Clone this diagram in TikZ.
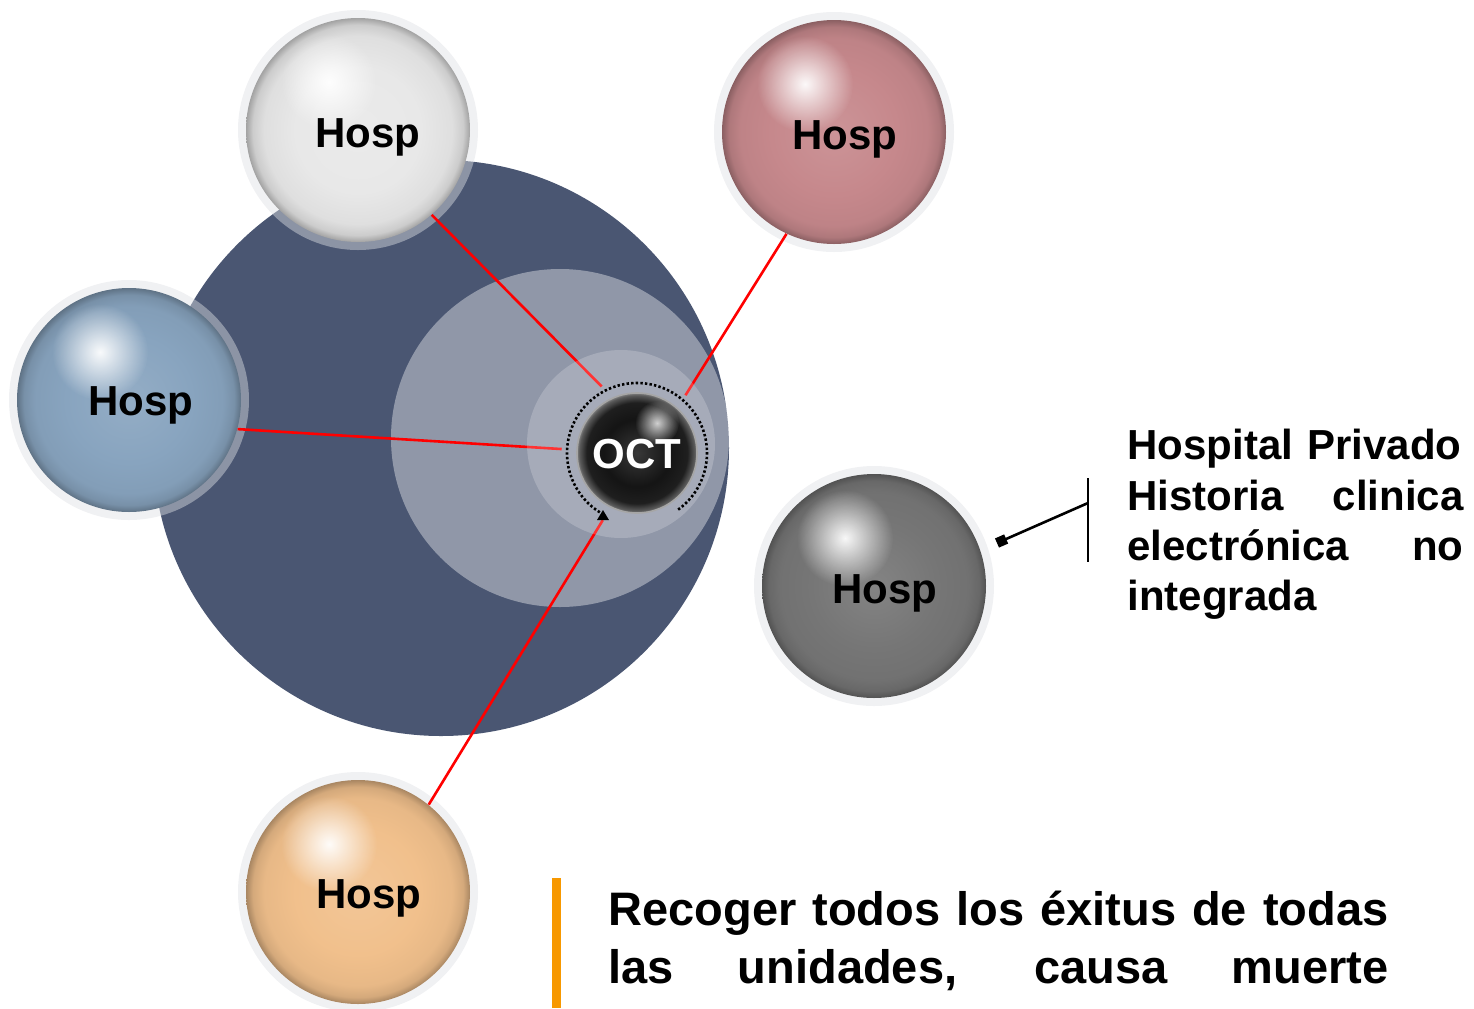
\documentclass[tikz,border=0pt]{standalone}
\usepackage{fontspec}
\setmainfont{Liberation Sans}
\usetikzlibrary{arrows.meta,fadings}
\definecolor{navy}{RGB}{74,86,114}
\definecolor{halocol}{RGB}{222,224,229}
\definecolor{cwhite}{RGB}{232,232,232}
\definecolor{cred}{RGB}{198,136,140}
\definecolor{cblue}{RGB}{136,164,191}
\definecolor{cgray}{RGB}{118,118,118}
\definecolor{corange}{RGB}{241,192,140}
\definecolor{obar}{RGB}{247,152,0}
\colorlet{sphc}{gray}
\pgfdeclareradialshading[sphc]{sph}{\pgfqpoint{0bp}{0bp}}{%
 color(0bp)=(sphc!90!white);
 color(14bp)=(sphc);
 color(21bp)=(sphc!96!black);
 color(23.5bp)=(sphc!88!black);
 color(25bp)=(sphc!70!black);
 color(50bp)=(sphc!70!black)}
\pgfdeclareradialshading{octsh}{\pgfqpoint{0bp}{0bp}}{%
 color(0bp)=(black!78);
 color(14bp)=(black!92);
 color(21bp)=(black!88);
 color(24bp)=(black!65);
 color(25bp)=(black!50);
 color(50bp)=(black!50)}
\tikzfading[name=hlfade, inner color=transparent!0, outer color=transparent!100]
\begin{document}
\begin{tikzpicture}[x=0.5pt,y=-0.5pt,
  sphc/.code={\colorlet{sphc}{#1}},
  ballnode/.style={circle, minimum size=112pt, inner sep=0pt, shading=sph, sphc=#1},
  halofill/.style={fill=halocol, opacity=0.45},
  hilite/.style={fill=white, path fading=hlfade, opacity=0.95},
  lbl/.style={font=\bfseries\fontsize{21pt}{25pt}\selectfont, anchor=base, inner sep=0pt},
  txt/.style={font=\bfseries\fontsize{21pt}{25pt}\selectfont, anchor=base west, inner sep=0pt},
  btxt/.style={font=\bfseries\fontsize{23.5pt}{28pt}\selectfont, anchor=base west, inner sep=0pt},
  redline/.style={draw=red, line width=1.3pt}]
\useasboundingbox (0,0) rectangle (1474,1008);
% sphere centres
\coordinate (pw) at (358,130);
\coordinate (pr) at (834,132);
\coordinate (pb) at (129,400);
\coordinate (pg) at (874,586);
\coordinate (po) at (358,892);
% background discs
\fill[navy] (441,448) circle (144pt);
\fill[white, opacity=0.39] (560,438) circle (84.5pt);
% invisible target ring around OCT
\node[circle, minimum size=75pt, inner sep=0pt] (octring) at (637,453) {};
% halos
\foreach \p in {pw,pr,pb,pg,po} \fill[halofill] (\p) circle (60pt);
\node[ballnode=cwhite] (hw) at (pw) {};
\node[ballnode=cred] (hr) at (pr) {};
\node[ballnode=cblue] (hb) at (pb) {};
\node[ballnode=cgray] (hg) at (pg) {};
\node[ballnode=corange] (ho) at (po) {};
\foreach \p in {hw,hr,hb,hg,ho} \fill[hilite] ([shift={(-14.5pt,24pt)}]\p.center) circle (24pt);
% red connectors
\draw[redline] (hw.-49) -- (octring.118);
\draw[redline] (hr.245) -- (octring.50);
\draw[redline] (hb.-15) -- (octring.177);
\draw[redline] (ho.51) -- (octring.243);
% inner light disc
\fill[white, opacity=0.2] (621,444) circle (47pt);
% OCT ball
\node[circle, minimum size=60pt, inner sep=0pt, shading=octsh, draw=gray!70, line width=0.8pt] (oct) at (637,453) {};
\fill[hilite, opacity=0.8] ([shift={(10pt,15pt)}]oct.center) circle (11pt);
\node[lbl, text=white] (octl) at (637,468) {OCT};
\draw[line width=1.3pt, dash pattern=on 1.2pt off 1.1pt] ([shift={(-54:35pt)}]oct.center) arc[start angle=-54, end angle=238, radius=35pt];
\fill (597,520) -- (609,520) -- (603,510) -- cycle;
% labels
\node[lbl] (lw) at (368,147) {Hosp};
\node[lbl] (lr) at (845,149) {Hosp};
\node[lbl] (lb) at (141,415) {Hosp};
\node[lbl] (lg) at (885,603) {Hosp};
\node[lbl] (lo) at (369,908) {Hosp};
% callout
\coordinate (ctip) at (997,543);
\coordinate (cbar) at (1088,503);
\coordinate (bt) at (1088,478);
\coordinate (bb) at (1088,562);
\draw[line width=1.3pt, {Square[length=5pt,width=5pt]}-] (ctip) -- (cbar);
\draw[line width=1.2pt] (bt) -- (bb);
\node[txt] (t1) at (1127,459) {\makebox[167pt][s]{Hospital Privado}};
\node[txt] (t2) at (1127,510) {\makebox[168pt][s]{Historia clinica}};
\node[txt] (t3) at (1127,560) {\makebox[168pt][s]{electrónica no}};
\node[txt] (t4) at (1127,610) {integrada};
% bottom note
\fill[obar] (552,878) rectangle (561,1008);
\node[btxt] (b1) at (608,925) {\makebox[390pt][s]{Recoger todos los éxitus de todas}};
\node[btxt] (b2) at (608,983) {\makebox[390pt][s]{las unidades, causa muerte}};
\end{tikzpicture}
\end{document}
